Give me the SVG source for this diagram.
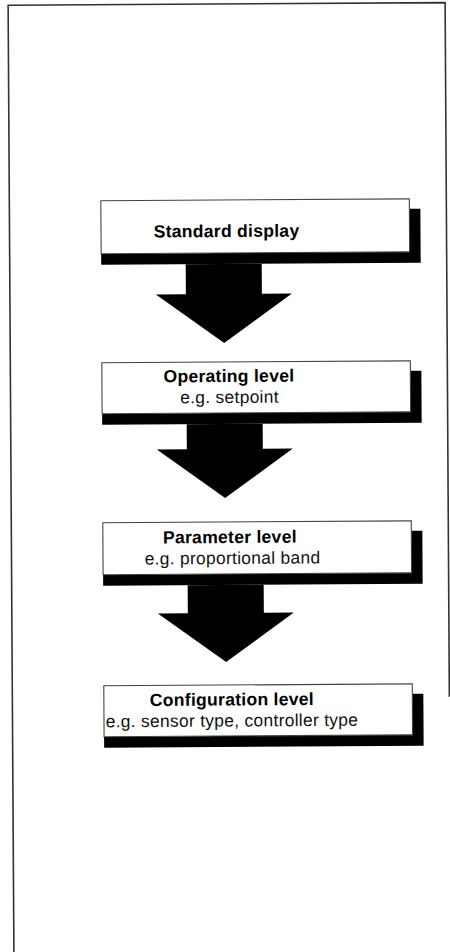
<svg xmlns="http://www.w3.org/2000/svg" width="450" height="952" viewBox="0 0 450 952">
  <defs>
    <style>
      .frame { fill: none; stroke: #333; stroke-width: 1.6; }
      .box { fill: #fff; stroke: #444; stroke-width: 1.1; }
      .shadow { fill: #000; }
      .arrow { fill: #000; }
      .title { font-family: "Liberation Sans", Arial, Helvetica, sans-serif; font-size: 17.6px; font-weight: bold; letter-spacing: 0.25px; fill: #000; text-anchor: middle; }
      .sub { font-family: "Liberation Sans", Arial, Helvetica, sans-serif; font-size: 17.4px; letter-spacing: 0.3px; fill: #111; text-anchor: middle; }
    </style>
  </defs>
  <rect width="450" height="952" fill="#fff"/>
  <g transform="rotate(-0.35 225 476)">
    <!-- page frame, open at the lower right -->
    <path class="frame" d="M448 698 V4 H11 V960"/>

    <!-- connectors: heavy block arrows -->
    <g id="connectors">
      <path class="arrow" d="M187 264 H263 V294 H293 L225 343 L157 294 H187 Z"/>
      <path class="arrow" d="M187 424 H263 V449 H293 L225 498 L157 449 H187 Z"/>
      <path class="arrow" d="M187 585 H263 V613 H293 L225 662 L157 613 H187 Z"/>
    </g>

    <g id="standard-display">
      <path class="shadow" d="M411 210 H422 V264 H102.5 V253 H411 Z"/>
      <rect class="box" x="102.5" y="200" width="308.5" height="53"/>
      <text class="title" x="228" y="237">Standard display</text>
    </g>

    <g id="operating-level">
      <path class="shadow" d="M411 372 H422 V424 H102.5 V413 H411 Z"/>
      <rect class="box" x="102.5" y="362" width="308.5" height="51"/>
      <text class="title" x="229.5" y="382">Operating level</text>
      <text class="sub" x="230" y="403">e.g. setpoint</text>
    </g>

    <g id="parameter-level">
      <path class="shadow" d="M411 532 H422 V585 H102.5 V574 H411 Z"/>
      <rect class="box" x="102.5" y="522" width="308.5" height="52"/>
      <text class="title" x="229.5" y="543">Parameter level</text>
      <text class="sub" x="232" y="564">e.g. proportional band</text>
    </g>

    <g id="configuration-level">
      <path class="shadow" d="M411 695 H422 V747 H102.5 V736 H411 Z"/>
      <rect class="box" x="102.5" y="685" width="308.5" height="51"/>
      <text class="title" x="230.5" y="705.5">Configuration level</text>
      <text class="sub" x="230.5" y="726.5">e.g. sensor type, controller type</text>
    </g>
  </g>
</svg>
